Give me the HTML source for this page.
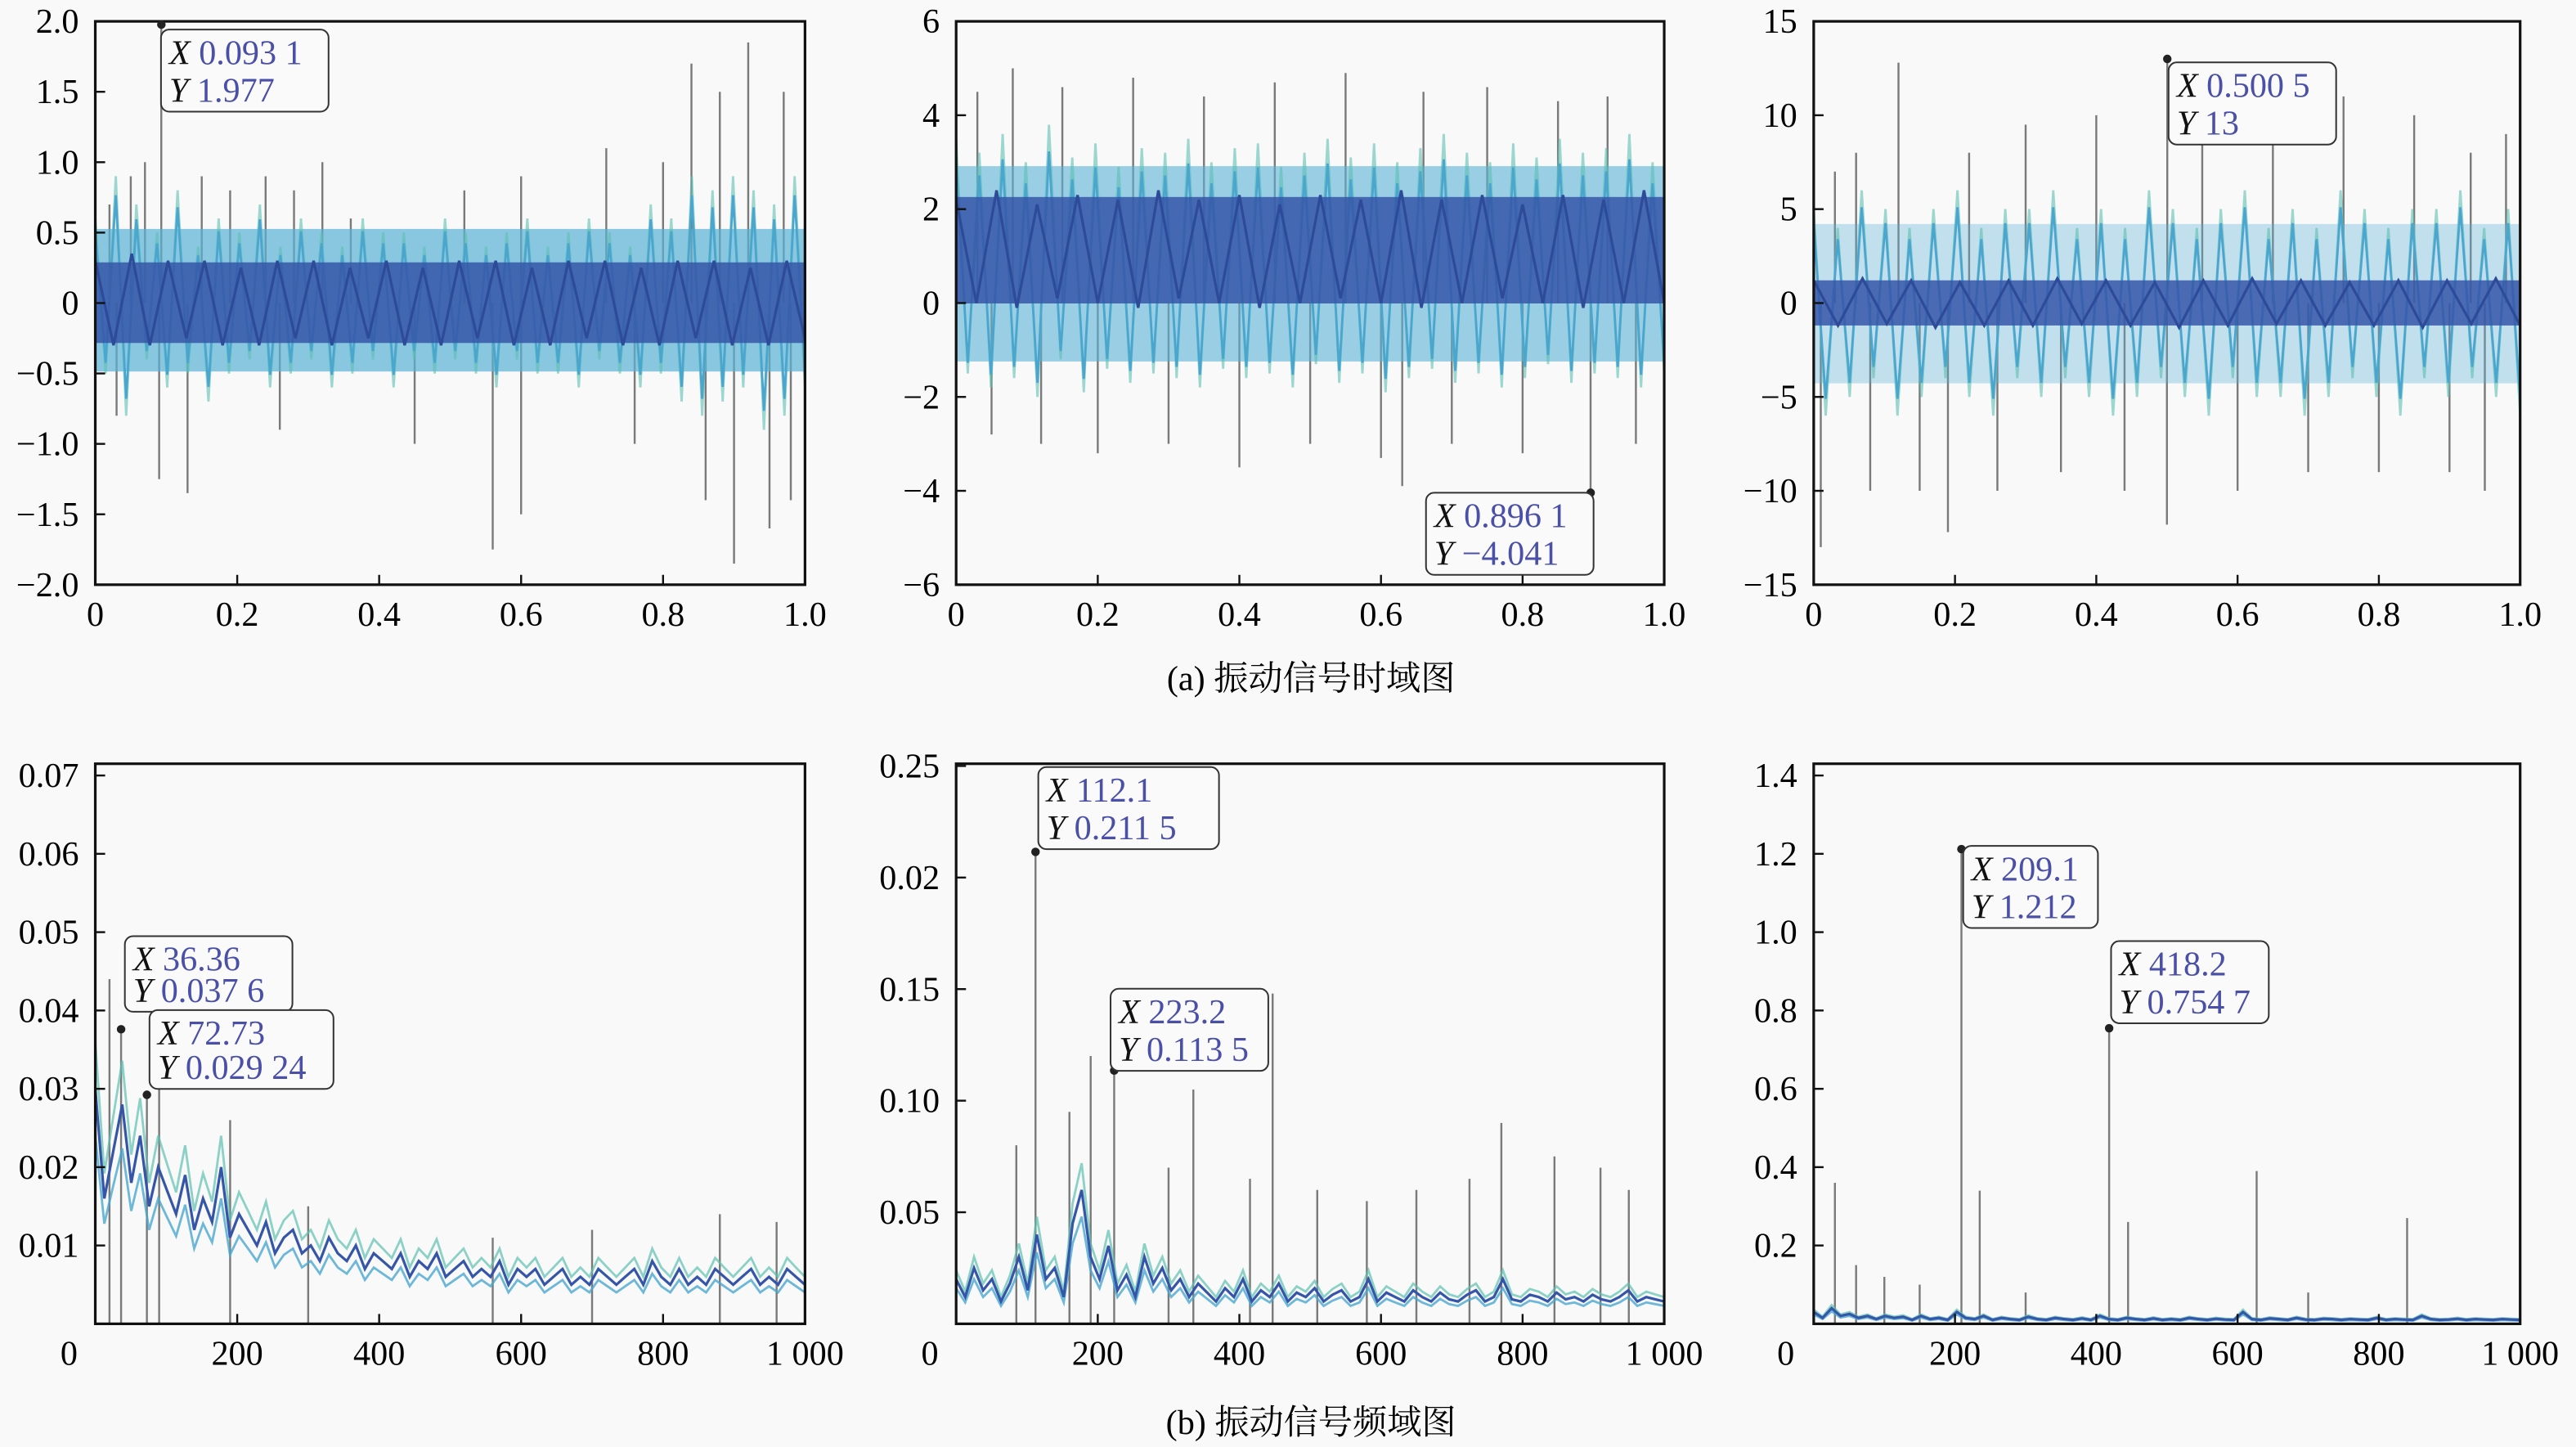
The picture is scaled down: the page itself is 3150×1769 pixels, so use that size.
<!DOCTYPE html>
<html><head><meta charset="utf-8"><style>
html,body{margin:0;padding:0;background:#f9f9f9;}
svg{display:block;font-family:"Liberation Serif","Noto Serif CJK SC",serif;}
</style></head><body>
<svg id="fig" width="3150" height="1769" viewBox="0 0 1568 881" preserveAspectRatio="none" xmlns="http://www.w3.org/2000/svg">
<rect width="1568" height="881" fill="#f9f9f9"/>
<text x="798" y="420" font-size="21" text-anchor="middle">(a) 振动信号时域图</text>
<text x="798" y="873" font-size="21" text-anchor="middle">(b) 振动信号频域图</text>
</svg>
<script>
// ---- data: time domain (alternating oscillation amplitudes) ----
const t1Wide=[0.6,-0.5,0.9,-0.8,0.7,-0.4,0.5,-0.6,0.8,-0.5,0.4,-0.7,0.6,-0.5,0.5,-0.4,0.7,-0.6,0.4,-0.5,0.6,-0.4,0.5,-0.6,0.4,-0.5,0.6,-0.4,0.5,-0.6,0.5,-0.4,0.4,-0.5,0.6,-0.4,0.5,-0.5,0.4,-0.6,0.5,-0.4,0.6,-0.5,0.4,-0.5,0.5,-0.6,0.6,-0.4,0.5,-0.5,0.4,-0.6,0.7,-0.5,0.6,-0.7,0.9,-0.8,0.8,-0.7,0.9,-0.6,0.8,-0.9,0.7,-0.8,0.9,-0.6];
const t1Core=[0.3,-0.3,0.35,-0.3,0.3,-0.25,0.3,-0.3,0.25,-0.3,0.3,-0.25,0.3,-0.3,0.25,-0.25,0.3,-0.3,0.25,-0.3,0.3,-0.25,0.3,-0.3,0.25,-0.3,0.3,-0.25,0.3,-0.3,0.25,-0.3,0.3,-0.25,0.3,-0.3,0.25,-0.3,0.3,-0.25];
const t1Spk=[[0.02,0.7],[0.03,-0.8],[0.05,0.9],[0.07,1.0],[0.093,1.977],[0.09,-1.25],[0.13,-1.35],[0.15,0.9],[0.19,0.8],[0.24,0.9],[0.26,-0.9],[0.28,0.8],[0.32,1.0],[0.36,0.6],[0.45,-1.0],[0.52,0.8],[0.56,-1.75],[0.6,0.9],[0.6,-1.5],[0.72,1.1],[0.76,-1.0],[0.8,1.0],[0.84,1.7],[0.86,-1.4],[0.88,1.5],[0.9,-1.85],[0.92,1.85],[0.95,-1.6],[0.97,1.5],[0.98,-1.4]];
const t2Wide=[3.5,-1.5,3.2,-1.8,3.6,-1.6,3.0,-2.0,3.8,-1.2,3.1,-1.9,3.4,-1.4,2.9,-1.7,3.3,-1.5,3.2,-1.6,3.5,-1.8,3.0,-1.4,3.3,-1.6,3.4,-1.5,2.9,-1.8,3.2,-1.3,3.5,-1.7,3.1,-1.5,3.4,-1.9,3.0,-1.6,3.3,-1.4,3.6,-1.7,3.2,-1.5,3.0,-1.8,3.4,-1.6,3.1,-1.3,3.5,-1.7,3.2,-1.5,3.3,-1.6,3.6,-1.8,3.0,-1.5];
const t2Core=[2.2,0.0,2.4,-0.1,2.1,0.1,2.3,0.0,2.2,-0.1,2.4,0.1,2.2,0.0,2.3,-0.1,2.1,0.0,2.3,0.1,2.2,0.0,2.4,-0.1,2.2,0.0,2.3,0.1,2.1,0.0,2.3,-0.1,2.2,0.0,2.4,0.0];
const t2Spk=[[0.03,4.5],[0.05,-2.8],[0.08,5.0],[0.12,-3.0],[0.15,4.6],[0.2,-3.2],[0.25,4.8],[0.3,-3.0],[0.35,4.4],[0.4,-3.5],[0.45,4.7],[0.5,-3.0],[0.55,4.9],[0.6,-3.3],[0.63,-3.9],[0.66,4.5],[0.7,-3.0],[0.75,4.6],[0.8,-3.2],[0.85,4.3],[0.896,-4.041],[0.92,4.4],[0.96,-3.0]];
const t3Wide=[5,-6,4,-5,6,-4,5,-6,4,-5,5,-4,6,-5,4,-6,5,-4,5,-5,6,-4,4,-5,5,-6,4,-5,6,-4,5,-5,4,-6,5,-4,6,-5,4,-5,5,-6,4,-5,6,-4,5,-5,4,-6,5,-4,5,-5,6,-4,4,-5,5,-6];
const t3Core=[1.2,-1.2,1.3,-1.1,1.2,-1.3,1.1,-1.2,1.2,-1.2,1.3,-1.1,1.2,-1.2,1.1,-1.3,1.2,-1.2,1.3,-1.1,1.2,-1.2,1.1,-1.2,1.2,-1.3,1.2,-1.1,1.3,-1.2];
const t3Spk=[[0.01,-13],[0.03,7],[0.06,8],[0.08,-10],[0.12,12.8],[0.15,-10],[0.19,-12.2],[0.22,8],[0.26,-10],[0.3,9.5],[0.35,-9],[0.4,10],[0.44,-10],[0.5005,13],[0.5,-11.8],[0.55,9],[0.6,-10],[0.65,10],[0.7,-9],[0.75,11],[0.8,-9],[0.85,10],[0.9,-9],[0.93,8],[0.95,-10],[0.98,9]];
// ---- data: frequency domain (spectrum values per 12.5 Hz bin) ----
const f1Vals=[0.03,0.016,0.022,0.028,0.018,0.024,0.015,0.02,0.017,0.014,0.019,0.012,0.016,0.013,0.02,0.011,0.014,0.012,0.01,0.013,0.009,0.011,0.012,0.009,0.01,0.008,0.011,0.009,0.008,0.01,0.007,0.009,0.008,0.007,0.009,0.006,0.008,0.007,0.009,0.006,0.007,0.008,0.006,0.007,0.006,0.008,0.005,0.007,0.006,0.007,0.005,0.006,0.007,0.005,0.006,0.005,0.007,0.006,0.005,0.006,0.007,0.005,0.008,0.006,0.005,0.007,0.005,0.006,0.005,0.007,0.006,0.005,0.006,0.007,0.005,0.006,0.005,0.007,0.006,0.005];
const f1Spk=[[36.36,0.0376],[72.73,0.02924],[20,0.044],[90,0.03],[190,0.026],[300,0.015],[560,0.011],[700,0.012],[880,0.014],[960,0.013]];
const f2Vals=[0.02,0.012,0.025,0.015,0.02,0.01,0.018,0.03,0.015,0.04,0.02,0.025,0.012,0.045,0.06,0.03,0.02,0.035,0.015,0.022,0.012,0.03,0.018,0.025,0.015,0.02,0.012,0.018,0.014,0.01,0.016,0.012,0.02,0.01,0.015,0.012,0.018,0.01,0.014,0.012,0.016,0.01,0.013,0.015,0.01,0.012,0.02,0.01,0.014,0.012,0.01,0.015,0.012,0.01,0.014,0.011,0.01,0.013,0.015,0.01,0.012,0.02,0.011,0.01,0.013,0.012,0.01,0.014,0.011,0.012,0.01,0.013,0.011,0.01,0.012,0.015,0.01,0.012,0.011,0.01];
const f2Spk=[[112.1,0.2115],[223.2,0.1135],[85,0.08],[160,0.095],[190,0.12],[300,0.07],[335,0.105],[415,0.065],[447,0.148],[510,0.06],[580,0.055],[650,0.06],[725,0.065],[770,0.09],[845,0.075],[910,0.07],[950,0.06]];
const f3Vals=[0.03,0.015,0.04,0.02,0.025,0.015,0.02,0.012,0.02,0.015,0.018,0.01,0.02,0.012,0.015,0.01,0.03,0.015,0.012,0.02,0.01,0.015,0.012,0.01,0.018,0.012,0.01,0.015,0.012,0.01,0.014,0.01,0.02,0.012,0.01,0.015,0.012,0.01,0.014,0.01,0.012,0.01,0.015,0.012,0.01,0.013,0.011,0.01,0.03,0.012,0.01,0.014,0.012,0.01,0.015,0.011,0.01,0.013,0.012,0.01,0.012,0.011,0.01,0.015,0.01,0.012,0.011,0.01,0.02,0.012,0.01,0.011,0.013,0.01,0.012,0.011,0.01,0.012,0.011,0.01];
const f3Spk=[[209.1,1.212],[418.2,0.7547],[30,0.36],[60,0.15],[100,0.12],[235,0.34],[445,0.26],[627,0.39],[840,0.27],[150,0.1],[300,0.08],[700,0.08]];
// ---- ticks ----
const tTicks=[0,0.2,0.4,0.6,0.8,1.0];
const tTickLabels=["0","0.2","0.4","0.6","0.8","1.0"];
const y1Ticks=[2,1.5,1,0.5,0,-0.5,-1,-1.5,-2];
const y1Labels=["2.0","1.5","1.0","0.5","0","\u22120.5","\u22121.0","\u22121.5","\u22122.0"];
const y2Ticks=[6,4,2,0,-2,-4,-6];
const y2Labels=["6","4","2","0","\u22122","\u22124","\u22126"];
const y3Ticks=[15,10,5,0,-5,-10,-15];
const y3Labels=["15","10","5","0","\u22125","\u221210","\u221215"];
const fTicks=[200,400,600,800,1000];
const fTickLabels=["200","400","600","800","1 000"];
const yf1Ticks=[0.07,0.06,0.05,0.04,0.03,0.02,0.01];
const yf1Labels=["0.07","0.06","0.05","0.04","0.03","0.02","0.01"];
const yf2Ticks=[0.25,0.2,0.15,0.1,0.05];
const yf2Labels=["0.25","0.02","0.15","0.10","0.05"];
const yf3Ticks=[1.4,1.2,1.0,0.8,0.6,0.4,0.2];
const yf3Labels=["1.4","1.2","1.0","0.8","0.6","0.4","0.2"];

const NS="http://www.w3.org/2000/svg";
const svg=document.getElementById('fig');
function mk(tag,parent,attrs){const e=document.createElementNS(NS,tag);for(const k in attrs)e.setAttribute(k,attrs[k]);parent.appendChild(e);return e;}

function panel(id,x0,x1,y0,y1,xd,yd){
  const g=mk('g',svg,{});
  
  
  const X=v=>x0+(v-xd[0])/(xd[1]-xd[0])*(x1-x0);
  const Y=v=>y1-(v-yd[0])/(yd[1]-yd[0])*(y1-y0);
  const cid='clip-'+id;
  const cp=mk('clipPath',g,{id:cid});mk('rect',cp,{x:x0,y:y0,width:x1-x0,height:y1-y0});
  const plot=mk('g',g,{'clip-path':'url(#'+cid+')'});
  return {g,plot,X,Y,x0,x1,y0,y1};
}
function frame(P,xt,xl,yt,yl,xlab0){
  const fr=mk('rect',P.g,{x:P.x0,y:P.y0,width:P.x1-P.x0,height:P.y1-P.y0,fill:'none',stroke:'#111','stroke-width':1.6});
  
  
  xt.forEach((v,i)=>{const x=P.X(v);
    mk('line',P.g,{x1:x,x2:x,y1:P.y1,y2:P.y1-6,stroke:'#111','stroke-width':1.2});
    const t=mk('text',P.g,{x:x,y:P.y1+25,'font-size':21,'text-anchor':'middle'});t.textContent=xl[i];
    
    });
  if(xlab0!==undefined){const t=mk('text',P.g,{x:xlab0,y:P.y1+25,'font-size':21,'text-anchor':'middle'});t.textContent='0';
    
    }
  yt.forEach((v,i)=>{const y=P.Y(v);
    mk('line',P.g,{x1:P.x0,x2:P.x0+6,y1:y,y2:y,stroke:'#111','stroke-width':1.2});
    const t=mk('text',P.g,{x:P.x0-10,y:y+7,'font-size':21,'text-anchor':'end'});t.textContent=yl[i];
    
    });
}
function series(P,vals,xd,color,w,name,op){
  const pts=vals.map((v,i)=>P.X(xd[0]+(xd[1]-xd[0])*i/(vals.length-1)).toFixed(1)+','+P.Y(v).toFixed(1)).join(' ');
  const l=mk('polyline',P.plot,{points:pts,fill:'none',stroke:color,'stroke-width':w,opacity:op||1});
  
  
}
function band(P,vals,xd,color,name,f,op){
  const m=vals.reduce((a,b)=>a+b,0)/vals.length;
  const r=Math.sqrt(vals.reduce((a,b)=>a+(b-m)*(b-m),0)/vals.length);
  const b=mk('rect',P.plot,{x:P.X(xd[0]),y:P.Y(m+r*f),width:P.X(xd[1])-P.X(xd[0]),height:P.Y(m-r*f)-P.Y(m+r*f),fill:color,opacity:op});
  
  
}
function spikes(P,arr,base,color,name){
  arr.forEach(s=>{const l=mk('line',P.plot,{x1:P.X(s[0]),x2:P.X(s[0]),y1:P.Y(base),y2:P.Y(s[1]),stroke:color,'stroke-width':1.2});
    
    });
}
function tip(P,px,py,bx,by,xs,ys,w,h){
  h=h||50;
  const g=mk('g',P.g,{});
  
  
  mk('circle',g,{cx:P.X(px),cy:P.Y(py),r:2.6,fill:'#222'});
  mk('rect',g,{x:bx,y:by,width:w,height:h,rx:5,fill:'#fafafa',stroke:'#333','stroke-width':1});
  const t1=mk('text',g,{x:bx+5,y:by+21,'font-size':21});
  const a=mk('tspan',t1,{'font-style':'italic',fill:'#111'});a.textContent='X ';
  const b=mk('tspan',t1,{fill:'#4a4fa8'});b.textContent=xs;
  const t2=mk('text',g,{x:bx+5,y:by+h-6,'font-size':21});
  const c=mk('tspan',t2,{'font-style':'italic',fill:'#111'});c.textContent='Y ';
  const d=mk('tspan',t2,{fill:'#4a4fa8'});d.textContent=ys;
}
const LB='#4aa6cf',DB='#3556a8',GR='#7a7a7a',TE='#5cc0b0';
function timePanel(id,x0,x1,yd,wide,core,spk,yt,yl,bandOp){
  const P=panel(id,x0,x1,13,356,[0,1],yd);
  spikes(P,spk,(yd[0]+yd[1])/2,GR,'signal-spike');
  band(P,wide,[0,1],'#5ab0d6','signal-envelope-band',0.85,bandOp);
  series(P,wide,[0,1],TE,1.4,'signal-envelope-teal',0.6);
  series(P,wide.map(v=>v*0.85),[0,1],LB,1.4,'signal-envelope');
  band(P,core,[0,1],DB,'signal-core-band',1.0,0.85);
  series(P,core,[0,1],'#2d4b98',1.6,'signal-core');
  frame(P,tTicks,tTickLabels,yt,yl);
  return P;
}
const A=timePanel('time-panel-1',58,490,[-2,2],t1Wide,t1Core,t1Spk,y1Ticks,y1Labels,0.7);
tip(A,0.0931,1.977,98,18,'0.093 1','1.977',102);
const B=timePanel('time-panel-2',582,1013,[-6,6],t2Wide,t2Core,t2Spk,y2Ticks,y2Labels,0.6);
tip(B,0.8961,-4.041,868,300,'0.896 1','\u22124.041',102);
const C=timePanel('time-panel-3',1104,1534,[-15,15],t3Wide,t3Core,t3Spk,y3Ticks,y3Labels,0.35);
tip(C,0.5005,13,1320,38,'0.500 5','13',102);
function freqPanel(id,x0,x1,ymax,vals,spk,yt,yl,xlab0){
  const P=panel(id,x0,x1,465,806,[0,1000],[0,ymax]);
  spikes(P,spk,0,GR,'spectrum-peak');
  series(P,vals.map(v=>v*1.2),[0,1000],TE,1.4,'spectrum-teal',0.7);
  series(P,vals.map(v=>v*0.8),[0,1000],LB,1.4,'spectrum-light',0.8);
  series(P,vals,[0,1000],DB,1.6,'spectrum-line');
  frame(P,fTicks,fTickLabels,yt,yl,xlab0);
  return P;
}
const D=freqPanel('freq-panel-1',58,490,0.0715,f1Vals,f1Spk,yf1Ticks,yf1Labels,42);
tip(D,36.36,0.0376,76,570,'36.36','0.037 6',102,46);
tip(D,72.73,0.02924,91,615,'72.73','0.029 24',112,48);
const E=freqPanel('freq-panel-2',582,1013,0.251,f2Vals,f2Spk,yf2Ticks,yf2Labels,566);
tip(E,112.1,0.2115,632,467,'112.1','0.211 5',110);
tip(E,223.2,0.1135,676,602,'223.2','0.113 5',96);
const F=freqPanel('freq-panel-3',1104,1534,1.43,f3Vals,f3Spk,yf3Ticks,yf3Labels,1087);
tip(F,209.1,1.212,1195,515,'209.1','1.212',82);
tip(F,418.2,0.7547,1285,573,'418.2','0.754 7',96);
</script>
</body></html>
